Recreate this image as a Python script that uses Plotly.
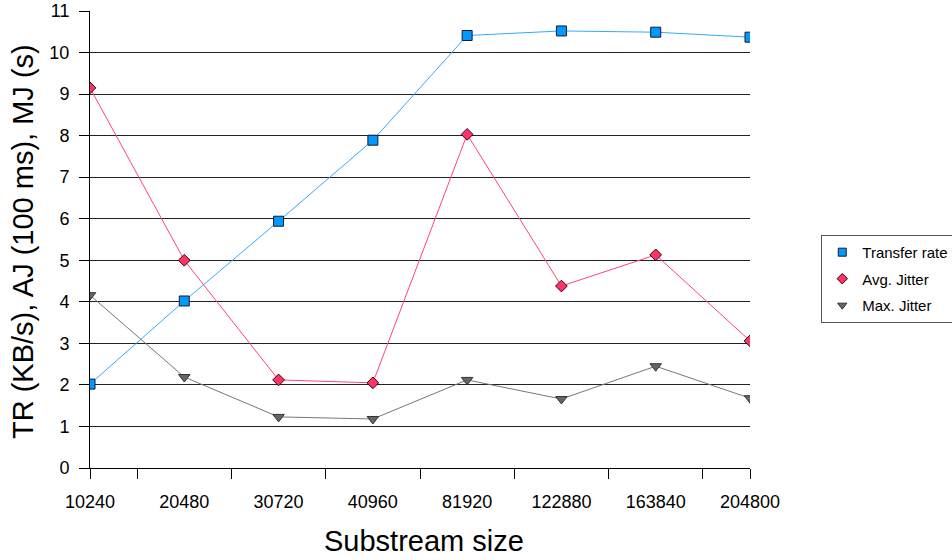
import plotly.graph_objects as go

categories = ["10240", "20480", "30720", "40960", "81920", "122880", "163840", "204800"]
transfer_rate = [2.02, 4.02, 5.94, 7.89, 10.41, 10.52, 10.49, 10.37]
avg_jitter = [9.15, 5.0, 2.12, 2.05, 8.03, 4.38, 5.13, 3.06]
max_jitter = [4.16, 2.19, 1.23, 1.18, 2.12, 1.66, 2.45, 1.68]

xpos = list(range(len(categories)))

series = [
    ("Transfer rate", transfer_rate, "#33AAFF",
     dict(symbol="square", size=10, color="#0099FF", line=dict(color="#1a1a33", width=1))),
    ("Avg. Jitter", avg_jitter, "#FF4477",
     dict(symbol="diamond", size=9, color="#FF3366", line=dict(color="#330011", width=1))),
    ("Max. Jitter", max_jitter, "#777777",
     dict(symbol="triangle-down", size=10, color="#666666", line=dict(color="#333333", width=1))),
]

fig = go.Figure()
for name, vals, lc, mk in series:
    fig.add_trace(go.Scatter(
        x=xpos, y=vals, name=name, mode="lines+markers",
        line=dict(color=lc, width=1), marker=mk, showlegend=False,
    ))
for name, vals, lc, mk in series:
    leg_mk = dict(mk)
    leg_mk["size"] = 8
    fig.add_trace(go.Scatter(
        x=[None], y=[None], name=name, mode="markers", marker=leg_mk,
        legendgroup=name, showlegend=True,
    ))

fig.update_layout(
    width=952, height=560,
    margin=dict(l=90, r=202, t=11, b=92, autoexpand=False),
    paper_bgcolor="white", plot_bgcolor="white",
    font=dict(family="Liberation Sans, Arial, sans-serif", color="black"),
    showlegend=True,
    legend=dict(
        x=1.108, y=0.51, xanchor="left", yanchor="top",
        bordercolor="#555555", borderwidth=1, bgcolor="white",
        font=dict(size=15), tracegroupgap=4, itemwidth=30,
    ),
    xaxis=dict(
        range=[0, 7], tickmode="array", tickvals=xpos, ticktext=categories,
        ticks="", showgrid=False, zeroline=False, automargin=False,
        showline=True, linecolor="black", linewidth=1,
        tickfont=dict(size=18), ticklabelstandoff=17,
        minor=dict(tickmode="array", tickvals=[0, 0.5, 1.5, 2.5, 3.5, 4.5, 5.5, 6.5, 7],
                   ticks="outside", ticklen=10, tickcolor="black", tickwidth=1, showgrid=False),
    ),
    yaxis=dict(
        range=[0, 11], tickmode="linear", tick0=0, dtick=1,
        ticks="outside", ticklen=10, tickcolor="black", automargin=False,
        showgrid=True, gridcolor="#222222", gridwidth=1, zeroline=False,
        showline=True, linecolor="black", linewidth=1,
        tickfont=dict(size=18), ticklabelstandoff=6,
    ),
    annotations=[
        dict(text="Substream size", xref="paper", yref="paper", x=0.506, y=-0.16,
             xanchor="center", yanchor="middle", showarrow=False, font=dict(size=29)),
        dict(text="TR (KB/s), AJ (100 ms), MJ (s)", xref="paper", yref="paper",
             x=(23 - 90) / 660, y=(468 - 242) / 457, textangle=-90,
             xanchor="center", yanchor="middle", showarrow=False, font=dict(size=29)),
    ],
)

fig.write_html("out.html")
